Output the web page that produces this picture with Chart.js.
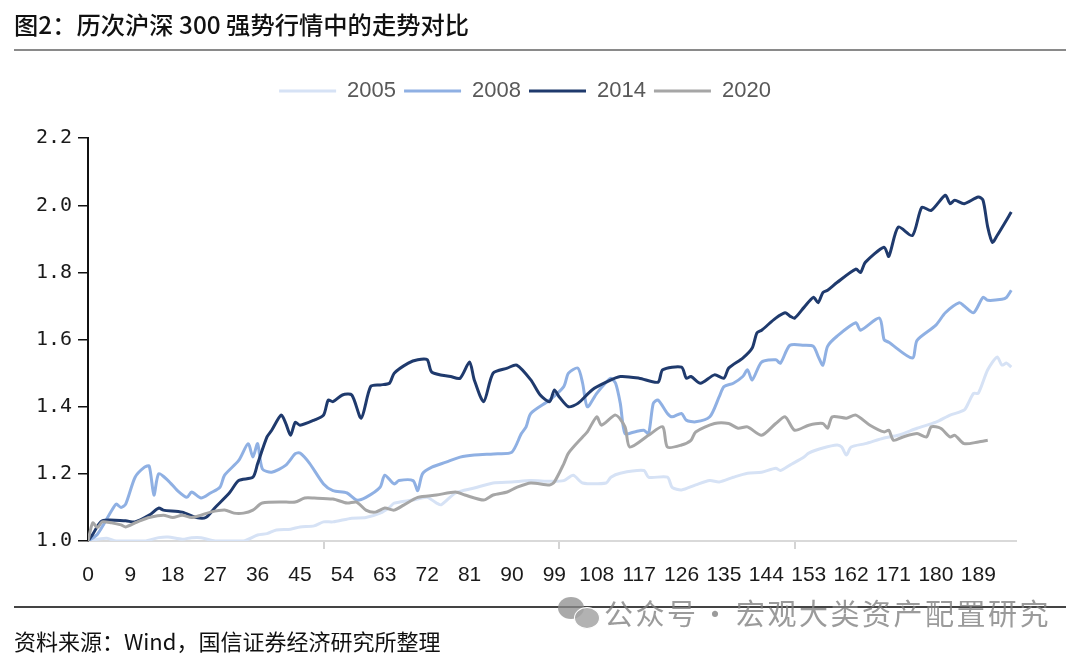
<!DOCTYPE html>
<html>
<head>
<meta charset="utf-8">
<script src="https://cdn.jsdelivr.net/npm/chart.js@4.4.0/dist/chart.umd.min.js"></script>
<style>
  html, body { margin: 0; padding: 0; background: #fff; }
  #wrap { position: relative; width: 1080px; height: 659px; overflow: hidden; }
  #chartBox { position: absolute; left: 0; top: 0; width: 1080px; height: 659px; }
  .title { position: absolute; left: 14px; top: 6px; font-family: "Noto Sans CJK SC", sans-serif; font-size: 24.3px; font-weight: 500; color: #111; white-space: nowrap; }
  .rule1 { position: absolute; left: 14px; top: 49px; width: 1052px; height: 2px; background: #8a8a8a; }
  .rule2 { position: absolute; left: 14px; top: 606px; width: 1052px; height: 2px; background: #444; }
  .source { position: absolute; left: 14px; top: 624px; font-family: "Noto Sans CJK SC", sans-serif; font-size: 22px; color: #111; white-space: nowrap; }
  .wm { position: absolute; left: 604px; top: 591px; font-family: "Noto Sans CJK SC", sans-serif; font-size: 29px; color: rgba(130,130,130,0.8); white-space: nowrap; letter-spacing: 2.5px; }
  .wm .dot { margin: 0 4px 0 2px; }
  .ic1 { position: absolute; left: 558px; top: 597px; width: 26px; height: 22px; border-radius: 50%; background: rgba(140,140,140,0.75); }
  .ic2 { position: absolute; left: 574px; top: 607px; width: 24px; height: 20px; border-radius: 50%; background: rgba(165,165,165,0.85); border: 1px solid #fff; }
</style>
</head>
<body>
<div id="wrap">
  <div id="chartBox"><canvas id="c"></canvas></div>
  <div class="title">图2：历次沪深 300 强势行情中的走势对比</div>
  <div class="rule1"></div>
  <div class="rule2"></div>
  <div class="ic1"></div><div class="ic2"></div>
  <div class="wm">公众号<span class="dot">·</span>宏观大类资产配置研究</div>
  <div class="source">资料来源：Wind，国信证券经济研究所整理</div>
</div>
<script>
// ---- data (trading-day index, relative level) ----
const seriesNames = ["2005", "2008", "2014", "2020"];
const xTickLabels = [0, 9, 18, 27, 36, 45, 54, 63, 72, 81, 90, 99, 108, 117, 126, 135, 144, 153, 162, 171, 180, 189];
const yTickValues = [1.0, 1.2, 1.4, 1.6, 1.8, 2.0, 2.2];

const x2005 = [0,2,4,6,12,15,17,20,22,24,27,33,36,38,40,43,45,48,50,52,56,59,62,64,65,69,72,74,75,78,82,86,90,94,98,101,103,105,110,111,113,118,119,123,124,126,129,132,134,137,140,143,146,147,149,152,153,156,159,160,161,162,165,169,172,176,180,183,186,187,188,189,191,193,194,195,196];
const y2005 = [1.00,1.005,1.008,1.00,1.00,1.01,1.012,1.005,1.01,1.01,1.00,1.00,1.018,1.022,1.033,1.035,1.042,1.045,1.057,1.057,1.068,1.07,1.083,1.10,1.113,1.122,1.13,1.113,1.108,1.143,1.158,1.173,1.176,1.18,1.178,1.18,1.196,1.173,1.173,1.19,1.202,1.21,1.19,1.19,1.16,1.152,1.167,1.18,1.176,1.19,1.202,1.205,1.217,1.21,1.226,1.25,1.262,1.277,1.286,1.28,1.256,1.28,1.29,1.307,1.315,1.336,1.354,1.375,1.39,1.414,1.44,1.44,1.51,1.548,1.524,1.53,1.518];

const x2008 = [0,2,5,6,7,8,10,12,13,14,15,17,19,21,22,24,26,28,29,32,34,35,36,37,39,42,44,45,47,50,52,55,57,59,62,63,65,66,69,70,71,73,76,79,82,87,90,92,93,94,98,101,102,104,105,106,108,110,111,112,113,114,116,118,119,120,121,123,124,126,127,129,132,134,135,137,139,140,141,143,146,147,149,152,154,155,156,157,159,163,164,168,169,170,175,176,180,182,185,186,188,190,191,194,195,196];
const y2008 = [1.00,1.02,1.09,1.11,1.10,1.11,1.19,1.22,1.223,1.137,1.20,1.18,1.15,1.13,1.146,1.128,1.143,1.16,1.196,1.24,1.29,1.25,1.29,1.215,1.205,1.226,1.26,1.262,1.232,1.17,1.15,1.143,1.122,1.13,1.16,1.196,1.17,1.18,1.18,1.15,1.20,1.22,1.235,1.25,1.256,1.26,1.265,1.32,1.34,1.38,1.42,1.46,1.50,1.515,1.47,1.40,1.44,1.473,1.485,1.47,1.41,1.32,1.325,1.33,1.32,1.41,1.42,1.38,1.37,1.38,1.36,1.355,1.37,1.43,1.46,1.47,1.49,1.51,1.48,1.533,1.54,1.53,1.583,1.583,1.58,1.55,1.524,1.58,1.61,1.65,1.628,1.664,1.60,1.592,1.545,1.598,1.643,1.68,1.71,1.70,1.68,1.726,1.717,1.72,1.726,1.747];

const x2014 = [0,1,3,8,10,13,15,16,20,23,25,27,30,32,35,36,38,39,41,42,43,44,45,48,50,51,52,54,56,58,60,62,64,65,68,70,72,73,77,79,81,82,84,86,89,91,94,96,98,99,100,102,104,107,110,113,117,121,122,126,127,128,130,133,135,136,139,141,142,143,146,148,149,150,152,154,155,156,157,159,163,164,165,169,170,172,175,177,179,182,183,184,186,189,190,191,192,193,196];
const y2014 = [1.00,1.02,1.06,1.06,1.057,1.077,1.098,1.092,1.086,1.07,1.07,1.10,1.143,1.18,1.19,1.23,1.31,1.33,1.375,1.35,1.315,1.354,1.345,1.36,1.375,1.42,1.415,1.435,1.435,1.366,1.46,1.465,1.47,1.50,1.53,1.54,1.54,1.503,1.49,1.485,1.533,1.48,1.415,1.50,1.515,1.524,1.48,1.435,1.415,1.45,1.43,1.40,1.41,1.45,1.473,1.49,1.485,1.473,1.51,1.518,1.485,1.49,1.47,1.495,1.485,1.515,1.545,1.575,1.62,1.628,1.664,1.68,1.67,1.664,1.696,1.726,1.71,1.74,1.747,1.77,1.81,1.80,1.83,1.875,1.848,1.935,1.91,1.994,1.985,2.03,2.005,2.015,2.005,2.025,2.015,1.935,1.89,1.91,1.98];

const x2020 = [0,1,2,3,5,7,8,10,11,13,16,18,20,22,24,26,29,31,33,35,37,42,44,46,48,52,55,57,59,61,63,65,67,70,74,78,80,84,86,89,91,94,98,99,101,102,105,106,108,109,112,114,115,119,122,123,126,128,129,133,136,138,140,143,146,148,150,153,156,157,158,161,163,166,169,170,171,173,176,178,179,181,183,184,186,189,191];
const y2020 = [1.00,1.054,1.04,1.057,1.054,1.048,1.042,1.054,1.06,1.07,1.077,1.07,1.077,1.07,1.077,1.086,1.092,1.083,1.083,1.092,1.113,1.116,1.116,1.128,1.128,1.125,1.113,1.116,1.092,1.086,1.098,1.092,1.107,1.13,1.137,1.146,1.137,1.122,1.137,1.146,1.16,1.173,1.167,1.176,1.23,1.262,1.31,1.325,1.37,1.345,1.375,1.34,1.28,1.315,1.34,1.28,1.286,1.30,1.325,1.35,1.35,1.336,1.34,1.315,1.35,1.37,1.33,1.345,1.35,1.336,1.37,1.366,1.375,1.345,1.325,1.33,1.30,1.31,1.32,1.31,1.34,1.336,1.31,1.315,1.29,1.295,1.30];

const seriesX = [x2005, x2008, x2014, x2020];
const seriesY = [y2005, y2008, y2014, y2020];
const seriesColors = ["#d6e2f5", "#8fb0e3", "#1f3a6d", "#a6a6a6"];
const drawOrder = [4, 3, 2, 1];

const datasets = seriesNames.map((name, k) => ({
  label: name,
  data: seriesX[k].map((x, i) => ({ x: x, y: seriesY[k][i] })),
  borderColor: seriesColors[k],
  backgroundColor: seriesColors[k],
  borderWidth: 3,
  pointRadius: 0,
  tension: 0.25,
  fill: false,
  order: drawOrder[k]
}));

const tickMarkEvery = 50;

new Chart(document.getElementById("c"), {
  type: "line",
  data: { datasets: datasets },
  options: {
    responsive: true,
    maintainAspectRatio: false,
    animation: false,
    layout: { padding: { top: 72, left: 34, right: 64, bottom: 50 } },
    plugins: {
      tooltip: { enabled: false },
      title: { display: true, text: " ", font: { size: 1 }, padding: { top: 0, bottom: 25 } },
      legend: {
        display: true,
        position: "top",
        weight: 3000,
        labels: {
          boxWidth: 57,
          boxHeight: 3,
          padding: 8,
          color: "#595959",
          font: { family: "Liberation Sans, Arial, sans-serif", size: 22 },
          sort: (a, b) => a.datasetIndex - b.datasetIndex,
          generateLabels: (chart) => {
            const items = Chart.defaults.plugins.legend.labels.generateLabels(chart);
            items.forEach(it => { it.lineWidth = 0; it.fillStyle = it.strokeStyle; });
            return items;
          }
        }
      }
    },
    scales: {
      x: {
        type: "linear",
        min: 0,
        max: 197,
        afterFit: (s) => { s.height = 68; },
        afterBuildTicks: (s) => {
          const vals = xTickLabels.slice();
          for (let v = 0; v <= 197; v += tickMarkEvery) if (vals.indexOf(v) < 0) vals.push(v);
          vals.sort((a, b) => a - b);
          s.ticks = vals.map(v => ({ value: v }));
        },
        ticks: {
          autoSkip: false,
          maxRotation: 0,
          padding: 14,
          color: "#1a1a1a",
          font: { family: "Liberation Sans Narrow, Arial Narrow, sans-serif", size: 21 },
          callback: (v) => (xTickLabels.indexOf(v) >= 0 ? String(v) : "")
        },
        grid: {
          drawOnChartArea: false,
          drawTicks: true,
          tickLength: 8,
          lineWidth: 2,
          color: (ctx) => (ctx.tick && ctx.tick.value % tickMarkEvery === 0 && ctx.tick.value > 0 ? "#d4d4d4" : "rgba(0,0,0,0)")
        },
        border: { display: true, color: "#d9d9d9", width: 2 }
      },
      y: {
        type: "linear",
        min: 1.0,
        max: 2.2,
        afterFit: (s) => { s.width = 54; },
        afterBuildTicks: (s) => { s.ticks = yTickValues.map(v => ({ value: v })); },
        ticks: {
          padding: 6,
          color: "#1a1a1a",
          font: { family: "DejaVu Sans Mono, monospace", size: 20 },
          callback: (v) => Number(v).toFixed(1)
        },
        grid: {
          drawOnChartArea: false,
          drawTicks: true,
          tickLength: 10,
          lineWidth: 1.5,
          color: "#111"
        },
        border: { display: true, color: "#111", width: 2 }
      }
    }
  }
});
</script>
</body>
</html>
